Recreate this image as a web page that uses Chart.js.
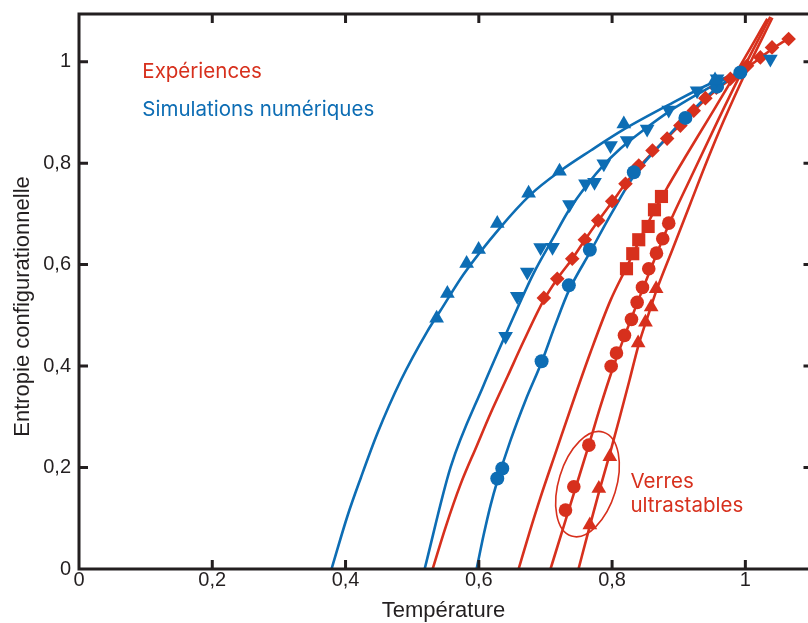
<!DOCTYPE html>
<html><head><meta charset="utf-8">
<script src="https://cdn.jsdelivr.net/npm/chart.js@4.4.0/dist/chart.umd.min.js"></script>
<style>html,body{margin:0;padding:0;background:#fff;overflow:hidden}#wrap{width:808px;height:623px}</style>
</head><body><div id="wrap"><canvas id="c" width="808" height="623"></canvas></div>
<script>
// ---- axis ticks ----
const xTicks = [0, 0.2, 0.4, 0.6, 0.8, 1];
const xTickLabels = ['0', '0,2', '0,4', '0,6', '0,8', '1'];
const yTicks = [0, 0.2, 0.4, 0.6, 0.8, 1];
const yTickLabels = ['0', '0,2', '0,4', '0,6', '0,8', '1'];
const xTitle = 'Température';
const yTitle = 'Entropie configurationnelle';
const legendExp = 'Expériences';
const legendSim = 'Simulations numériques';
const noteLines = ['Verres', 'ultrastables'];

// ---- fitted curves (simulations, blue) ----
const simA_T = [0.379,0.403,0.423,0.448,0.483,0.5225,0.5427,0.5777,0.6327,0.6777,0.7226,0.768,0.817,0.888,0.948,0.990];
const simA_S = [0,0.105,0.180,0.268,0.372,0.468,0.51,0.582,0.674,0.738,0.785,0.825,0.866,0.917,0.957,0.978];
const simB_T = [0.5187,0.5577,0.6072,0.6432,0.6822,0.7121,0.7331,0.7526,0.7826,0.8126,0.8501,0.8876,0.9325,0.9625,0.9895];
const simB_S = [0,0.2008,0.3622,0.4705,0.5827,0.6535,0.7028,0.7402,0.7894,0.8287,0.8681,0.9035,0.9390,0.9606,0.9783];
const simC_T = [0.5967,0.6072,0.6177,0.6282,0.6477,0.6702,0.6942,0.7151,0.7346,0.7676,0.7991,0.8321,0.8726,0.9100,0.9505,0.9895];
const simC_S = [0,0.0669,0.126,0.1752,0.2539,0.3327,0.4075,0.4823,0.5472,0.626,0.7008,0.7736,0.8366,0.8898,0.9409,0.9783];

// ---- fitted curves (experiments, red) ----
const expD_T = [0.5307,0.5502,0.5727,0.5967,0.6177,0.6432,0.6672,0.6972,0.7181,0.7406,0.7586,0.7796,0.8006,0.8201,0.8411,0.8621,0.8831,0.9025,0.9220,0.9415,0.9625,0.9925,1.0225,1.0450,1.0675];
const expD_S = [0,0.0827,0.1673,0.2421,0.3071,0.3799,0.4488,0.5295,0.5728,0.6122,0.6476,0.6870,0.7244,0.7598,0.7933,0.8228,0.8504,0.8760,0.9016,0.9272,0.9508,0.9783,1.0079,1.0295,1.0472];
const expSq_T = [0.6597,0.6762,0.6927,0.7166,0.7406,0.7676,0.7976,0.8216,0.8426,0.8636,0.8846,0.9085,0.9430,0.9880,1.0330];
const expSq_S = [0,0.0728,0.1417,0.2343,0.3268,0.4272,0.5295,0.5945,0.6516,0.7067,0.7559,0.8091,0.8839,0.9823,1.0846];
const expCi_T = [0.7076,0.7256,0.7451,0.7646,0.7826,0.8006,0.8186,0.8381,0.8606,0.8846,0.9175,0.9580,0.9970,1.0375];
const expCi_S = [0,0.0768,0.1594,0.2421,0.3209,0.3937,0.4587,0.5256,0.6004,0.6772,0.7697,0.8819,0.9862,1.0886];
const expTr_T = [0.7496,0.7661,0.7811,0.7961,0.8111,0.8261,0.8396,0.8531,0.8666,0.8906,0.9175,0.9415,0.9670,1.0030,1.0405];
const expTr_S = [0,0.0827,0.1555,0.2244,0.2972,0.3720,0.4409,0.4961,0.5492,0.6299,0.7205,0.8012,0.8819,0.9862,1.0866];

// ---- measured points ----
const ptA_T = [0.5367,0.5528,0.5817,0.5997,0.6277,0.6747,0.7211,0.8176,0.9545];
const ptA_S = [0.4941,0.5433,0.6024,0.6299,0.6811,0.7407,0.7841,0.8774,0.9640];
const ptB_T = [0.6402,0.6577,0.6727,0.6927,0.7106,0.7361,0.7601,0.7736,0.7876,0.7976,0.8226,0.8526,0.8850,0.9276,0.9575,1.0375];
const ptB_S = [0.4587,0.5374,0.5852,0.6339,0.6344,0.7185,0.7593,0.7624,0.7986,0.8346,0.8445,0.8675,0.9049,0.9429,0.9665,1.0053];
const ptC_T = [0.6277,0.6352,0.6942,0.7351,0.7666,0.8326,0.9100,0.9575,0.9925];
const ptC_S = [0.1785,0.1982,0.4094,0.5591,0.6293,0.7821,0.8892,0.9508,0.9789];
const ptD_T = [0.6976,0.7177,0.7402,0.7591,0.7792,0.8001,0.8201,0.8400,0.8606,0.8826,0.9025,0.9225,0.9400,0.9565,0.9775,1.0025,1.0225,1.0400,1.0649];
const ptD_S = [0.5344,0.5722,0.6116,0.6490,0.6870,0.7250,0.7593,0.7953,0.8248,0.8484,0.8740,0.9035,0.9281,0.9488,0.9665,0.9921,1.0085,1.0282,1.0447];
const ptSq_T = [0.8216,0.8310,0.8400,0.8541,0.8636,0.8741];
const ptSq_S = [0.5919,0.6215,0.6490,0.6752,0.7081,0.7343];
const ptCi_T = [0.7301,0.7426,0.7651,0.7986,0.8066,0.8186,0.8291,0.8376,0.8456,0.8550,0.8666,0.8760,0.8850];
const ptCi_S = [0.1161,0.1620,0.2441,0.3996,0.4258,0.4606,0.4921,0.5256,0.5551,0.5919,0.6226,0.6510,0.6817];
const ptTr_T = [0.7666,0.7801,0.7966,0.8391,0.8501,0.8586,0.8661];
const ptTr_S = [0.0866,0.1589,0.2211,0.4455,0.4862,0.5163,0.5526];

// ---- annotation ellipse (data units) ----
const ellipseCenter = [0.7631, 0.1673];
const ellipseEnd = [0.7871, 0.2697];
const ellipseRatio = 0.53;
const noteAnchor = [0.8276, 0.159];
const legendAnchor = [0.095, 0.968];

const RED = '#d7301d', BLUE = '#0d6db4', INK = '#231f20';
const zip = (T, S) => T.map((t, i) => ({x: t, y: S[i]}));

function lineDs(T, S, color) {
  return {type: 'scatter', data: zip(T, S), showLine: true, borderColor: color, borderWidth: 2.6,
    pointRadius: 0, cubicInterpolationMode: 'monotone', order: 10, fill: false};
}
function ptDs(T, S, color, style, r, rot) {
  return {type: 'scatter', data: zip(T, S), showLine: false, backgroundColor: color, borderColor: color,
    borderWidth: 0, pointStyle: style, pointRadius: r, pointRotation: rot || 0, order: 0};
}

const datasets = [
  ptDs(ptA_T, ptA_S, BLUE, 'triangle', 8.5),
  ptDs(ptB_T, ptB_S, BLUE, 'triangle', 8.5, 180),
  ptDs(ptC_T, ptC_S, BLUE, 'circle', 7),
  ptDs(ptD_T, ptD_S, RED, 'rectRot', 7.3),
  ptDs(ptSq_T, ptSq_S, RED, 'rect', 9.3),
  ptDs(ptCi_T, ptCi_S, RED, 'circle', 6.8),
  ptDs(ptTr_T, ptTr_S, RED, 'triangle', 8.5),
  lineDs(simA_T, simA_S, BLUE),
  lineDs(simB_T, simB_S, BLUE),
  lineDs(simC_T, simC_S, BLUE),
  lineDs(expD_T, expD_S, RED),
  lineDs(expSq_T, expSq_S, RED),
  lineDs(expCi_T, expCi_S, RED),
  lineDs(expTr_T, expTr_S, RED)
];

const zeroPad = s => { s.paddingTop = 0; s.paddingBottom = 0; s.paddingLeft = 0; s.paddingRight = 0; };

const deco = {
  id: 'deco',
  afterDatasetsDraw(chart) {
    const {ctx, scales: {x, y}} = chart;
    ctx.save();
    const cx = x.getPixelForValue(ellipseCenter[0]), cy = y.getPixelForValue(ellipseCenter[1]);
    const ex = x.getPixelForValue(ellipseEnd[0]), ey = y.getPixelForValue(ellipseEnd[1]);
    const ra = Math.hypot(ex - cx, ey - cy), rot = Math.atan2(ey - cy, ex - cx);
    ctx.beginPath();
    ctx.ellipse(cx, cy, ra, ra * ellipseRatio, rot, 0, Math.PI * 2);
    ctx.strokeStyle = RED; ctx.lineWidth = 1.6; ctx.stroke();
    ctx.font = '20.5px Inter';
    ctx.textAlign = 'left'; ctx.textBaseline = 'alphabetic';
    ctx.fillStyle = RED;
    const nx = x.getPixelForValue(noteAnchor[0]), ny = y.getPixelForValue(noteAnchor[1]);
    ctx.fillText(noteLines[0], nx, ny);
    ctx.fillText(noteLines[1], nx, ny + 24);
    const lx = x.getPixelForValue(legendAnchor[0]), ly = y.getPixelForValue(legendAnchor[1]);
    ctx.fillText(legendExp, lx, ly);
    ctx.fillStyle = BLUE;
    ctx.fillText(legendSim, lx, ly + 38);
    ctx.restore();
  },
  afterDraw(chart) {
    const {ctx, chartArea: a, scales: {x, y}} = chart;
    ctx.save();
    ctx.strokeStyle = INK; ctx.lineWidth = 3; ctx.lineCap = 'butt';
    ctx.beginPath();
    ctx.moveTo(a.left, a.top); ctx.lineTo(a.left, a.bottom);
    ctx.moveTo(a.left - 1.5, a.bottom); ctx.lineTo(a.right, a.bottom);
    ctx.moveTo(a.left - 1.5, a.top); ctx.lineTo(a.right, a.top);
    const tl = 9;
    xTicks.forEach(v => {
      if (v === 0) return;
      const px = x.getPixelForValue(v);
      ctx.moveTo(px, a.bottom); ctx.lineTo(px, a.bottom - tl);
      ctx.moveTo(px, a.top); ctx.lineTo(px, a.top + tl);
    });
    yTicks.forEach(v => {
      if (v === 0) return;
      const py = y.getPixelForValue(v);
      ctx.moveTo(a.left, py); ctx.lineTo(a.left + tl, py);
      ctx.moveTo(a.right, py); ctx.lineTo(a.right - 4.5, py);
    });
    ctx.stroke();
    ctx.fillStyle = INK;
    ctx.font = '22px "Liberation Sans"';
    ctx.textAlign = 'center'; ctx.textBaseline = 'alphabetic';
    ctx.fillText(xTitle, (a.left + a.right) / 2, 617);
    ctx.translate(29, (a.top + a.bottom) / 2 + 15);
    ctx.rotate(-Math.PI / 2);
    ctx.fillText(yTitle, 0, 0);
    ctx.restore();
  }
};

new Chart(document.getElementById('c'), {
  type: 'scatter',
  data: {datasets},
  options: {
    responsive: false, animation: false, devicePixelRatio: 1,
    layout: {autoPadding: false, padding: {top: 14, left: 0, right: 0, bottom: 0}},
    plugins: {legend: {display: false}, tooltip: {enabled: false}},
    scales: {
      x: {type: 'linear', min: 0, max: 1.094,
        afterFit: s => { s.height = 54; zeroPad(s); },
        afterBuildTicks: s => { s.ticks = xTicks.map(v => ({value: v})); },
        grid: {display: false, drawTicks: false}, border: {display: false},
        ticks: {padding: -1, color: INK, font: {family: '"Liberation Sans"', size: 20},
          maxRotation: 0, autoSkip: false, callback: (v, i) => xTickLabels[i]}},
      y: {type: 'linear', min: 0, max: 1.094,
        afterFit: s => { s.width = 79; zeroPad(s); },
        afterBuildTicks: s => { s.ticks = yTicks.map(v => ({value: v})); },
        grid: {display: false, drawTicks: false}, border: {display: false},
        ticks: {padding: 8, color: INK, font: {family: '"Liberation Sans"', size: 20},
          autoSkip: false, callback: (v, i) => yTickLabels[i]}}
    }
  },
  plugins: [deco]
});
</script></body></html>
